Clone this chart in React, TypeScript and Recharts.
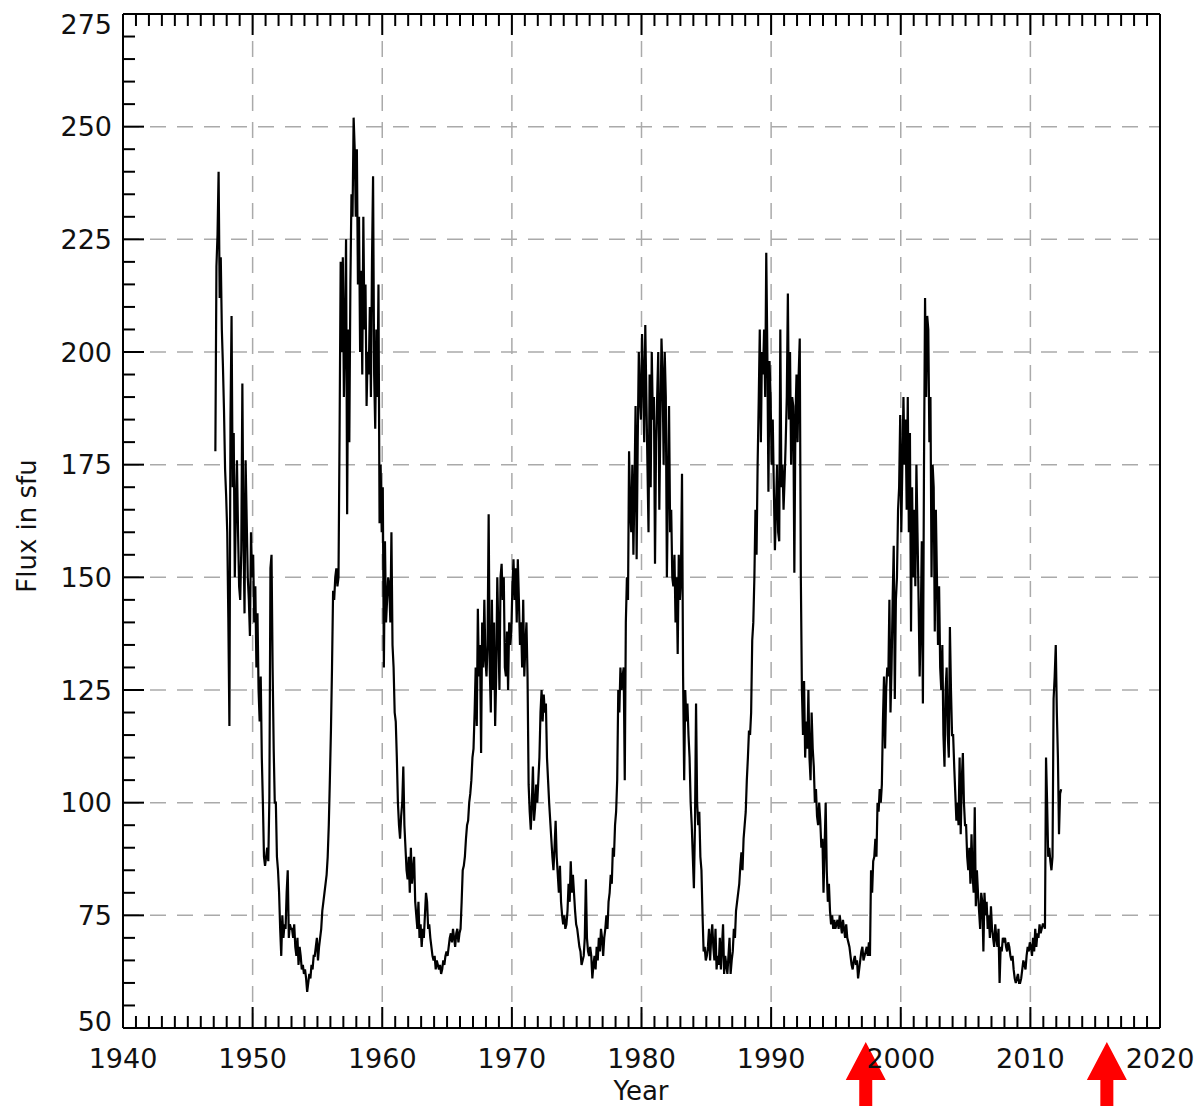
import { LineChart, Line, XAxis, YAxis, CartesianGrid, ReferenceDot } from 'recharts'

// Monthly 10.7 cm solar flux (sfu), first value is Feb 1947
const START_YEAR = 1947
const START_MONTH = 2

const cycle18 = [
  178, 219, 226, 240, 212, 221, 205, 197, 187, 174, 168, // 1947 (Feb-Dec)
  160, 141, 117, 185, 208, 170, 182, 150, 165, 176, 160, 148, // 1948
  145, 156, 193, 160, 142, 176, 163, 150, 145, 137, 160, 150, // 1949
  155, 140, 148, 130, 142, 125, 118, 128, 110, 100, 88, 86, // 1950
  88, 90, 87, 101, 152, 155, 130, 112, 100, 100, 88, 85, // 1951
  80, 72, 66, 75, 70, 73, 72, 80, 85, 70, 73, 72, // 1952
  72, 70, 73, 68, 66, 70, 64, 68, 66, 63, 64, 62, // 1953
  63, 61, 58, 60, 62, 61, 64, 63, 66, 66, 68, 70, // 1954
]

const cycle19 = [
  65, 68, 70, 72, 76, 78, 80, 82, 84, 88, 95, 105, // 1955
  116, 130, 147, 145, 150, 152, 148, 150, 182, 220, 200, 221, // 1956
  190, 205, 225, 164, 205, 180, 215, 235, 230, 252, 245, 230, // 1957
  245, 215, 230, 200, 218, 195, 230, 205, 215, 188, 200, 195, // 1958
  210, 190, 220, 239, 195, 183, 205, 190, 215, 162, 175, 160, // 1959
  170, 130, 158, 140, 145, 150, 148, 140, 160, 135, 130, 120, // 1960
  118, 110, 100, 95, 92, 97, 100, 108, 95, 90, 85, 83, // 1961
  88, 80, 90, 82, 85, 88, 78, 75, 72, 78, 70, 73, // 1962
  68, 72, 70, 75, 80, 78, 72, 73, 70, 68, 66, 65, // 1963
  66, 63, 65, 64, 63, 64, 62, 63, 65, 64, 66, 67, // 1964
]

const cycle20 = [
  66, 68, 70, 71, 69, 72, 70, 68, 71, 72, 69, 71, // 1965
  72, 78, 85, 86, 88, 92, 95, 96, 100, 102, 105, 110, // 1966
  112, 120, 130, 117, 143, 128, 135, 111, 140, 130, 145, 132, // 1967
  128, 135, 164, 130, 120, 145, 125, 140, 117, 128, 150, 138, // 1968
  125, 150, 153, 145, 150, 130, 128, 138, 125, 140, 135, 138, // 1969
  148, 154, 145, 152, 140, 154, 145, 135, 140, 130, 145, 128, // 1970
  135, 140, 128, 104, 98, 94, 100, 108, 96, 99, 104, 100, // 1971
  105, 110, 120, 125, 118, 124, 120, 122, 110, 105, 100, 96, // 1972
  92, 88, 85, 90, 96, 88, 84, 80, 86, 78, 75, 73, // 1973
  75, 72, 73, 76, 82, 78, 87, 80, 84, 80, 76, 73, // 1974
  72, 70, 68, 67, 64, 65, 66, 70, 83, 70, 67, 66, // 1975
]

const cycle21 = [
  68, 66, 61, 64, 66, 63, 68, 65, 70, 67, 72, 70, // 1976
  66, 70, 72, 75, 72, 78, 80, 84, 82, 90, 88, 95, // 1977
  98, 105, 125, 120, 130, 125, 128, 130, 105, 140, 150, 145, // 1978
  178, 165, 160, 175, 155, 170, 188, 154, 180, 200, 190, 185, // 1979
  204, 195, 180, 206, 190, 175, 160, 195, 170, 200, 185, 190, // 1980
  153, 180, 190, 200, 165, 185, 203, 195, 175, 200, 190, 150, // 1981
  170, 188, 160, 165, 150, 148, 155, 140, 150, 133, 155, 145, // 1982
  150, 173, 128, 105, 125, 118, 122, 115, 110, 100, 95, 88, // 1983
  81, 95, 122, 100, 95, 98, 88, 85, 75, 67, 68, 65, // 1984
  66, 68, 72, 65, 70, 73, 68, 65, 72, 63, 66, 64, // 1985
]

const cycle22 = [
  70, 63, 68, 73, 62, 66, 64, 62, 66, 70, 62, 65, // 1986
  67, 72, 70, 76, 78, 80, 82, 86, 89, 85, 92, 95, // 1987
  98, 105, 110, 116, 115, 120, 136, 140, 150, 165, 155, 175, // 1988
  189, 205, 180, 200, 195, 205, 190, 222, 200, 169, 198, 190, // 1989
  175, 185, 170, 156, 165, 175, 160, 158, 205, 170, 175, 165, // 1990
  172, 180, 190, 213, 185, 200, 175, 190, 188, 151, 185, 195, // 1991
  180, 195, 203, 150, 125, 115, 127, 110, 118, 112, 125, 110, // 1992
  105, 120, 112, 108, 100, 103, 97, 95, 100, 96, 90, 92, // 1993
  80, 90, 100, 85, 78, 82, 76, 73, 75, 72, 74, 72, // 1994
  73, 74, 72, 75, 73, 71, 74, 72, 70, 73, 70, 69, // 1995
]

const cycle23 = [
  68, 66, 64, 63, 65, 66, 64, 65, 61, 63, 65, 67, // 1996
  68, 65, 66, 67, 68, 66, 69, 66, 85, 80, 87, 88, // 1997
  92, 88, 100, 98, 103, 100, 104, 118, 128, 112, 125, 130, // 1998
  128, 145, 120, 130, 145, 157, 123, 145, 150, 165, 170, 186, // 1999
  160, 175, 190, 175, 185, 165, 190, 160, 182, 138, 170, 150, // 2000
  165, 148, 175, 160, 145, 128, 140, 158, 122, 174, 212, 190, // 2001
  208, 205, 180, 190, 150, 175, 170, 138, 165, 150, 135, 148, // 2002
  130, 125, 135, 115, 108, 125, 130, 115, 110, 139, 125, 115, // 2003
  115, 108, 102, 96, 100, 95, 110, 93, 105, 111, 100, 95, // 2004
  95, 88, 85, 90, 82, 93, 84, 80, 99, 77, 85, 80, // 2005
  76, 72, 80, 78, 67, 80, 75, 78, 72, 75, 70, 77, // 2006
  72, 70, 68, 73, 70, 68, 72, 60, 68, 67, 70, 69, // 2007
]

const cycle24 = [
  70, 68, 67, 69, 68, 66, 65, 66, 63, 61, 60, 61, // 2008
  62, 60, 60, 61, 63, 65, 64, 63, 66, 68, 67, 69, // 2009
  68, 66, 70, 67, 72, 68, 71, 70, 73, 71, 72, 73, // 2010
  73, 72, 110, 100, 88, 90, 87, 85, 88, 123, 128, 135, // 2011
  120, 110, 93, 102, 103, // 2012 (Jan-May)
]

const fluxValues = [...cycle18, ...cycle19, ...cycle20, ...cycle21, ...cycle22, ...cycle23, ...cycle24]

const chartData = fluxValues.map((flux, i) => ({
  year: START_YEAR + (START_MONTH - 1 + i + 0.5) / 12,
  flux,
}))

const majorYears = [1940, 1950, 1960, 1970, 1980, 1990, 2000, 2010, 2020]
const majorFlux = [50, 75, 100, 125, 150, 175, 200, 225, 250, 275]
const yearTicks = Array.from({ length: 81 }, (_, i) => 1940 + i)
const fluxTicks = Array.from({ length: 46 }, (_, i) => 50 + i * 5)
const arrowYears = [1997.3, 2015.9]

const MAJOR_LEN = 21
const MINOR_LEN = 12
const FONT = '"DejaVu Sans", sans-serif'
const TEXT = '#111'

function BottomTick({ x, y, payload }: any) {
  const major = majorYears.includes(payload.value)
  return (
    <g>
      <line x1={x} y1={y} x2={x} y2={y - (major ? MAJOR_LEN : MINOR_LEN)} stroke="#000" strokeWidth={2} />
      {major && (
        <text x={x} y={y + 40} textAnchor="middle" fontFamily={FONT} fontSize={27} fill={TEXT}>
          {payload.value}
        </text>
      )}
    </g>
  )
}

function TopTick({ x, y, payload }: any) {
  const major = majorYears.includes(payload.value)
  return <line x1={x} y1={y} x2={x} y2={y + (major ? MAJOR_LEN : MINOR_LEN)} stroke="#000" strokeWidth={2} />
}

function LeftTick({ x, y, payload }: any) {
  const v = payload.value
  const major = majorFlux.includes(v)
  // end labels are nudged inside like the original plot
  const shift = v === 275 ? 10 : v === 50 ? -7 : 0
  return (
    <g>
      <line x1={x} y1={y} x2={x + (major ? MAJOR_LEN : MINOR_LEN)} y2={y} stroke="#000" strokeWidth={2} />
      {major && (
        <text x={x - 11} y={y + shift} dy="0.36em" textAnchor="end" fontFamily={FONT} fontSize={27} fill={TEXT}>
          {v}
        </text>
      )}
    </g>
  )
}

function RightTick({ x, y, payload }: any) {
  const major = majorFlux.includes(payload.value)
  return <line x1={x} y1={y} x2={x - (major ? MAJOR_LEN : MINOR_LEN)} y2={y} stroke="#000" strokeWidth={2} />
}

function UpArrow({ cx, cy }: any) {
  const tip = cy + 14
  const base = cy + 52
  const pts = [
    [cx, tip], [cx + 20, base], [cx + 6.5, base], [cx + 6.5, cy + 90],
    [cx - 6.5, cy + 90], [cx - 6.5, base], [cx - 20, base],
  ].map(p => p.join(',')).join(' ')
  return <polygon points={pts} fill="#ff0000" />
}

const axisLine = { stroke: '#000', strokeWidth: 2 }

export default function App() {
  return (
    <div style={{ position: 'absolute', left: 0, top: 0, width: 1200, height: 1106, background: '#fff' }}>
      <LineChart width={1200} height={1106} data={chartData} margin={{ top: 13, right: 39, bottom: 77, left: 122 }}>
        <CartesianGrid
          stroke="#aaaaaa"
          strokeWidth={1.5}
          strokeDasharray="16 11"
          horizontalValues={[75, 100, 125, 150, 175, 200, 225, 250]}
          verticalValues={[1950, 1960, 1970, 1980, 1990, 2000, 2010]}
        />
        <XAxis
          dataKey="year"
          type="number"
          domain={[1940, 2020]}
          ticks={yearTicks}
          interval={0}
          height={1}
          tickSize={0}
          tickMargin={0}
          tickLine={false}
          axisLine={axisLine}
          tick={<BottomTick />}
        />
        <XAxis
          xAxisId="top"
          orientation="top"
          dataKey="year"
          type="number"
          domain={[1940, 2020]}
          ticks={yearTicks}
          interval={0}
          height={1}
          tickSize={0}
          tickMargin={0}
          tickLine={false}
          axisLine={axisLine}
          tick={<TopTick />}
        />
        <YAxis
          type="number"
          domain={[50, 275]}
          ticks={fluxTicks}
          interval={0}
          width={1}
          tickSize={0}
          tickMargin={0}
          tickLine={false}
          axisLine={axisLine}
          tick={<LeftTick />}
        />
        <YAxis
          yAxisId="right"
          orientation="right"
          type="number"
          domain={[50, 275]}
          ticks={fluxTicks}
          interval={0}
          width={1}
          tickSize={0}
          tickMargin={0}
          tickLine={false}
          axisLine={axisLine}
          tick={<RightTick />}
        />
        <Line
          type="linear"
          dataKey="flux"
          stroke="#000"
          strokeWidth={2.2}
          dot={false}
          isAnimationActive={false}
        />
        {arrowYears.map(yr => (
          <ReferenceDot key={yr} x={yr} y={50} r={0} ifOverflow="visible" shape={<UpArrow />} />
        ))}
      </LineChart>
      <div
        style={{
          position: 'absolute', left: 541, top: 1076, width: 200, textAlign: 'center',
          fontFamily: FONT, fontSize: 26, lineHeight: '30px', color: TEXT,
        }}
      >
        Year
      </div>
      <div
        style={{
          position: 'absolute', left: 27, top: 526, transform: 'translate(-50%, -50%) rotate(-90deg)',
          whiteSpace: 'nowrap', fontFamily: FONT, fontSize: 26, lineHeight: '30px', color: TEXT,
        }}
      >
        Flux in sfu
      </div>
    </div>
  )
}
